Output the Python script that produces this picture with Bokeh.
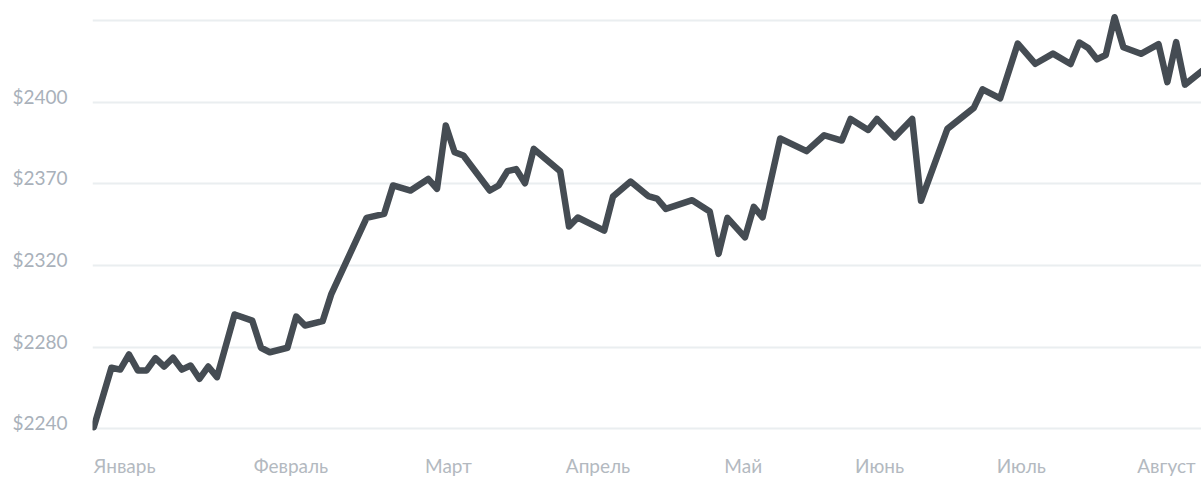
from bokeh.plotting import figure
from bokeh.models import Range1d, FixedTicker
from bokeh.embed import file_html
from bokeh.resources import INLINE

# point index (trading step) and price
idx = [0, 2, 3, 4, 5, 6, 7, 8, 9, 10, 11, 12, 13, 14, 16, 18, 19, 20, 22, 23, 24, 26, 27,
       31, 33, 34, 36, 38, 39, 40, 41, 42, 45, 46, 47, 48, 49, 50, 53, 54, 55, 58, 59, 61,
       63, 64, 65, 68, 70, 71, 72, 74, 75, 76, 78, 81, 83, 85, 86, 88, 89, 91, 93, 94, 97,
       100, 101, 103, 105, 107, 109, 111, 112, 113, 114, 115, 116, 117, 119, 121, 122, 123,
       124, 126]
price = [2240.8, 2269.9, 2269.0, 2276.4, 2268.6, 2268.6, 2274.6, 2270.5, 2274.8, 2269.0,
         2271.0, 2264.5, 2270.5, 2265.3, 2296.0, 2293.0, 2279.7, 2277.5, 2279.7, 2295.0,
         2290.6, 2292.7, 2306.1, 2343.3, 2345.3, 2359.2, 2356.7, 2362.4, 2357.5, 2388.6,
         2375.5, 2373.9, 2356.7, 2359.2, 2366.2, 2367.2, 2360.3, 2377.1, 2366.2, 2339.1,
         2343.5, 2337.1, 2353.8, 2361.1, 2354.0, 2352.8, 2347.7, 2352.0, 2346.4, 2325.7,
         2343.3, 2333.8, 2348.7, 2343.6, 2382.2, 2376.0, 2383.8, 2381.2, 2391.8, 2386.4,
         2391.8, 2382.8, 2391.8, 2351.7, 2386.9, 2397.2, 2406.3, 2401.9, 2428.7, 2418.8,
         2423.8, 2418.7, 2429.2, 2426.5, 2421.0, 2423.1, 2441.6, 2426.9, 2423.7, 2428.4,
         2409.8, 2429.4, 2408.6, 2415.5]

month_labels = ["Январь", "Февраль", "Март", "Апрель", "Май", "Июнь", "Июль", "Август"]
month_ticks = [3.5, 22.4, 40.3, 57.3, 73.8, 89.3, 105.4, 121.9]

grid_values = [2240, 2280, 2320, 2360, 2400, 2440]
y_tick_labels = ["$2240", "$2280", "$2320", "$2370", "$2400", ""]
label_lift = 3  # labels sit just above their grid line

FONT = "Lato"

p = figure(width=1201, height=479, output_backend="svg", toolbar_location=None,
           x_range=Range1d(-0.15, 125.88), y_range=Range1d(2234.27, 2449.8),
           min_border_left=92, min_border_right=0, min_border_top=0, min_border_bottom=39)
p.outline_line_color = None
p.background_fill_color = "white"
p.border_fill_color = "white"

p.line(idx, price, line_color="#454c53", line_width=6.5, line_join="round", line_cap="round")

p.xgrid.visible = False
p.ygrid.ticker = FixedTicker(ticks=grid_values)
p.ygrid.grid_line_color = "#eaeef0"
p.ygrid.grid_line_width = 2

y_label_pos = [v + label_lift for v in grid_values]
p.yaxis.ticker = FixedTicker(ticks=y_label_pos)
p.yaxis.major_label_overrides = dict(zip(y_label_pos, y_tick_labels))
p.xaxis.ticker = FixedTicker(ticks=month_ticks)
p.xaxis.major_label_overrides = dict(zip(month_ticks, month_labels))

for ax in (p.xaxis[0], p.yaxis[0]):
    ax.axis_line_color = None
    ax.major_tick_line_color = None
    ax.minor_tick_line_color = None
    ax.major_tick_in = 0
    ax.major_tick_out = 0
    ax.major_label_text_font = FONT
    ax.major_label_text_font_size = "19px"

p.yaxis.major_label_text_color = "#a9b1ba"
p.yaxis.major_label_standoff = 25
p.xaxis.major_label_text_color = "#b3b9c0"
p.xaxis.major_label_standoff = 13

open("out.html", "w").write(file_html(p, INLINE))
